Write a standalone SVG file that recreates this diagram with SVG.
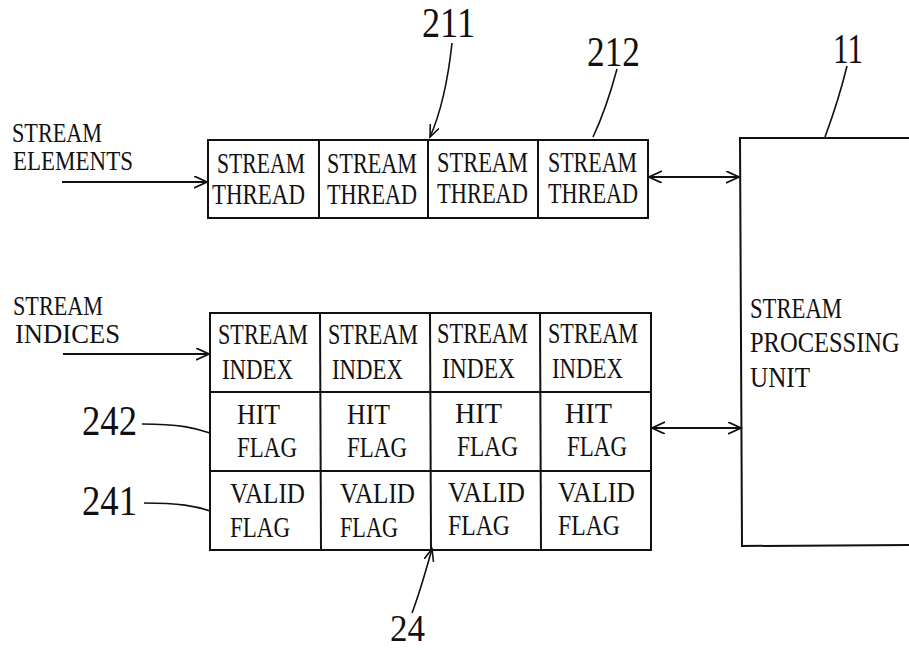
<svg xmlns="http://www.w3.org/2000/svg" width="909" height="650" viewBox="0 0 909 650">
  <defs>
    <style>
      .t { font-family: "Liberation Serif", "DejaVu Serif", serif; font-size: 29px; fill: #111; }
      .lbl { font-size: 27px; }
      .n { font-family: "Liberation Serif", "DejaVu Serif", serif; font-size: 42px; fill: #111; }
      .box { fill: #fff; stroke: #111; stroke-width: 2; }
      .ln { fill: none; stroke: #111; stroke-width: 2; }
      .lead { fill: none; stroke: #111; stroke-width: 1.6; }
    </style>
    <marker id="arr" markerUnits="userSpaceOnUse" markerWidth="16" markerHeight="14" refX="13" refY="6" orient="auto-start-reverse">
      <path d="M0,0 L13,6 L0,12" fill="none" stroke="#111" stroke-width="1.8"/>
    </marker>
    <marker id="tip" markerUnits="userSpaceOnUse" markerWidth="14" markerHeight="12" refX="12" refY="5" orient="auto">
      <path d="M0,0 L12,5 L0,10" fill="none" stroke="#111" stroke-width="1.6"/>
    </marker>
  </defs>

  <rect width="909" height="650" fill="#fff"/>

  <!-- input labels -->
  <g id="label-elements">
    <text class="t lbl" x="12" y="142" textLength="90" lengthAdjust="spacingAndGlyphs">STREAM</text>
    <text class="t lbl" x="13" y="170" textLength="120" lengthAdjust="spacingAndGlyphs">ELEMENTS</text>
  </g>
  <g id="label-indices">
    <text class="t lbl" x="13" y="315" textLength="90" lengthAdjust="spacingAndGlyphs">STREAM</text>
    <text class="t lbl" x="15" y="343" textLength="105" lengthAdjust="spacingAndGlyphs">INDICES</text>
  </g>

  <!-- stream thread register (21) -->
  <g id="thread-register">
    <rect class="box" x="208" y="140" width="440" height="78"/>
    <line class="ln" x1="319" y1="140" x2="319" y2="218"/>
    <line class="ln" x1="428" y1="140" x2="428" y2="218"/>
    <line class="ln" x1="538" y1="140" x2="538" y2="218"/>
    <text class="t" x="217" y="173" textLength="88" lengthAdjust="spacingAndGlyphs">STREAM</text>
    <text class="t" x="212" y="204" textLength="93" lengthAdjust="spacingAndGlyphs">THREAD</text>
    <text class="t" x="327" y="173" textLength="90" lengthAdjust="spacingAndGlyphs">STREAM</text>
    <text class="t" x="327" y="204" textLength="90" lengthAdjust="spacingAndGlyphs">THREAD</text>
    <text class="t" x="437" y="172" textLength="91" lengthAdjust="spacingAndGlyphs">STREAM</text>
    <text class="t" x="437" y="203" textLength="91" lengthAdjust="spacingAndGlyphs">THREAD</text>
    <text class="t" x="548" y="172" textLength="89" lengthAdjust="spacingAndGlyphs">STREAM</text>
    <text class="t" x="548" y="203" textLength="90" lengthAdjust="spacingAndGlyphs">THREAD</text>
  </g>

  <!-- stream index table (24) -->
  <g id="index-table">
    <rect class="box" x="210" y="313" width="441" height="237"/>
    <line class="ln" x1="210" y1="392" x2="651" y2="392"/>
    <line class="ln" x1="210" y1="471" x2="651" y2="471"/>
    <line class="ln" x1="320" y1="313" x2="321" y2="550"/>
    <line class="ln" x1="430" y1="313" x2="431" y2="550"/>
    <line class="ln" x1="540" y1="313" x2="541" y2="550"/>
    <!-- column 1 -->
    <text class="t" x="218" y="344" textLength="90" lengthAdjust="spacingAndGlyphs">STREAM</text>
    <text class="t" x="222" y="379" textLength="71" lengthAdjust="spacingAndGlyphs">INDEX</text>
    <text class="t" x="237" y="424" textLength="43" lengthAdjust="spacingAndGlyphs">HIT</text>
    <text class="t" x="237" y="457" textLength="60" lengthAdjust="spacingAndGlyphs">FLAG</text>
    <text class="t" x="230" y="503" textLength="75" lengthAdjust="spacingAndGlyphs">VALID</text>
    <text class="t" x="230" y="537" textLength="60" lengthAdjust="spacingAndGlyphs">FLAG</text>
    <!-- column 2 -->
    <text class="t" x="328" y="344" textLength="90" lengthAdjust="spacingAndGlyphs">STREAM</text>
    <text class="t" x="332" y="379" textLength="71" lengthAdjust="spacingAndGlyphs">INDEX</text>
    <text class="t" x="347" y="424" textLength="43" lengthAdjust="spacingAndGlyphs">HIT</text>
    <text class="t" x="347" y="457" textLength="60" lengthAdjust="spacingAndGlyphs">FLAG</text>
    <text class="t" x="340" y="503" textLength="75" lengthAdjust="spacingAndGlyphs">VALID</text>
    <text class="t" x="340" y="537" textLength="58" lengthAdjust="spacingAndGlyphs">FLAG</text>
    <!-- column 3 -->
    <text class="t" x="437" y="343" textLength="91" lengthAdjust="spacingAndGlyphs">STREAM</text>
    <text class="t" x="442" y="378" textLength="73" lengthAdjust="spacingAndGlyphs">INDEX</text>
    <text class="t" x="455" y="423" textLength="47" lengthAdjust="spacingAndGlyphs">HIT</text>
    <text class="t" x="457" y="456" textLength="61" lengthAdjust="spacingAndGlyphs">FLAG</text>
    <text class="t" x="448" y="502" textLength="77" lengthAdjust="spacingAndGlyphs">VALID</text>
    <text class="t" x="448" y="535" textLength="62" lengthAdjust="spacingAndGlyphs">FLAG</text>
    <!-- column 4 -->
    <text class="t" x="548" y="343" textLength="90" lengthAdjust="spacingAndGlyphs">STREAM</text>
    <text class="t" x="552" y="378" textLength="71" lengthAdjust="spacingAndGlyphs">INDEX</text>
    <text class="t" x="565" y="423" textLength="47" lengthAdjust="spacingAndGlyphs">HIT</text>
    <text class="t" x="567" y="456" textLength="60" lengthAdjust="spacingAndGlyphs">FLAG</text>
    <text class="t" x="558" y="502" textLength="77" lengthAdjust="spacingAndGlyphs">VALID</text>
    <text class="t" x="558" y="535" textLength="62" lengthAdjust="spacingAndGlyphs">FLAG</text>
  </g>

  <!-- stream processing unit (11) -->
  <g id="processing-unit">
    <path class="ln" d="M910,138 L740,138 L742,546 L910,545"/>
    <text class="t" x="750" y="318" textLength="92" lengthAdjust="spacingAndGlyphs">STREAM</text>
    <text class="t" transform="translate(750,352) scale(0.845,1)">PROCESSING</text>
    <text class="t" x="750" y="387" textLength="60" lengthAdjust="spacingAndGlyphs">UNIT</text>
  </g>

  <!-- reference numerals -->
  <g id="numerals">
    <text class="n" x="422" y="37" textLength="53" lengthAdjust="spacingAndGlyphs">211</text>
    <text class="n" x="587" y="66" textLength="53" lengthAdjust="spacingAndGlyphs">212</text>
    <text class="n" x="833" y="63" textLength="30" lengthAdjust="spacingAndGlyphs">11</text>
    <text class="n" x="82" y="435" textLength="55" lengthAdjust="spacingAndGlyphs">242</text>
    <text class="n" x="82" y="515" textLength="55" lengthAdjust="spacingAndGlyphs">241</text>
    <text class="n" x="390" y="641" textLength="35" lengthAdjust="spacingAndGlyphs" style="font-size:37px">24</text>
  </g>

  <!-- connectors -->
  <g id="connectors">
    <line class="ln" x1="62" y1="182" x2="207" y2="182" marker-end="url(#arr)"/>
    <line class="ln" x1="63" y1="354" x2="209" y2="354" marker-end="url(#arr)"/>
    <line class="ln" x1="649" y1="177" x2="739" y2="177" marker-start="url(#arr)" marker-end="url(#arr)"/>
    <line class="ln" x1="652" y1="428" x2="741" y2="428" marker-start="url(#arr)" marker-end="url(#arr)"/>
    <!-- leader lines -->
    <path class="lead" d="M452,43 C448,80 442,110 430,137" marker-end="url(#tip)"/>
    <path class="lead" d="M617,69 C610,95 602,118 593,137"/>
    <path class="lead" d="M847,66 C840,95 832,118 825,137"/>
    <path class="lead" d="M142,424 C180,424 195,428 210,433"/>
    <path class="lead" d="M144,503 C180,503 195,506 210,511"/>
    <path class="lead" d="M412,613 C420,592 426,570 432,549" marker-end="url(#tip)"/>
  </g>
</svg>
